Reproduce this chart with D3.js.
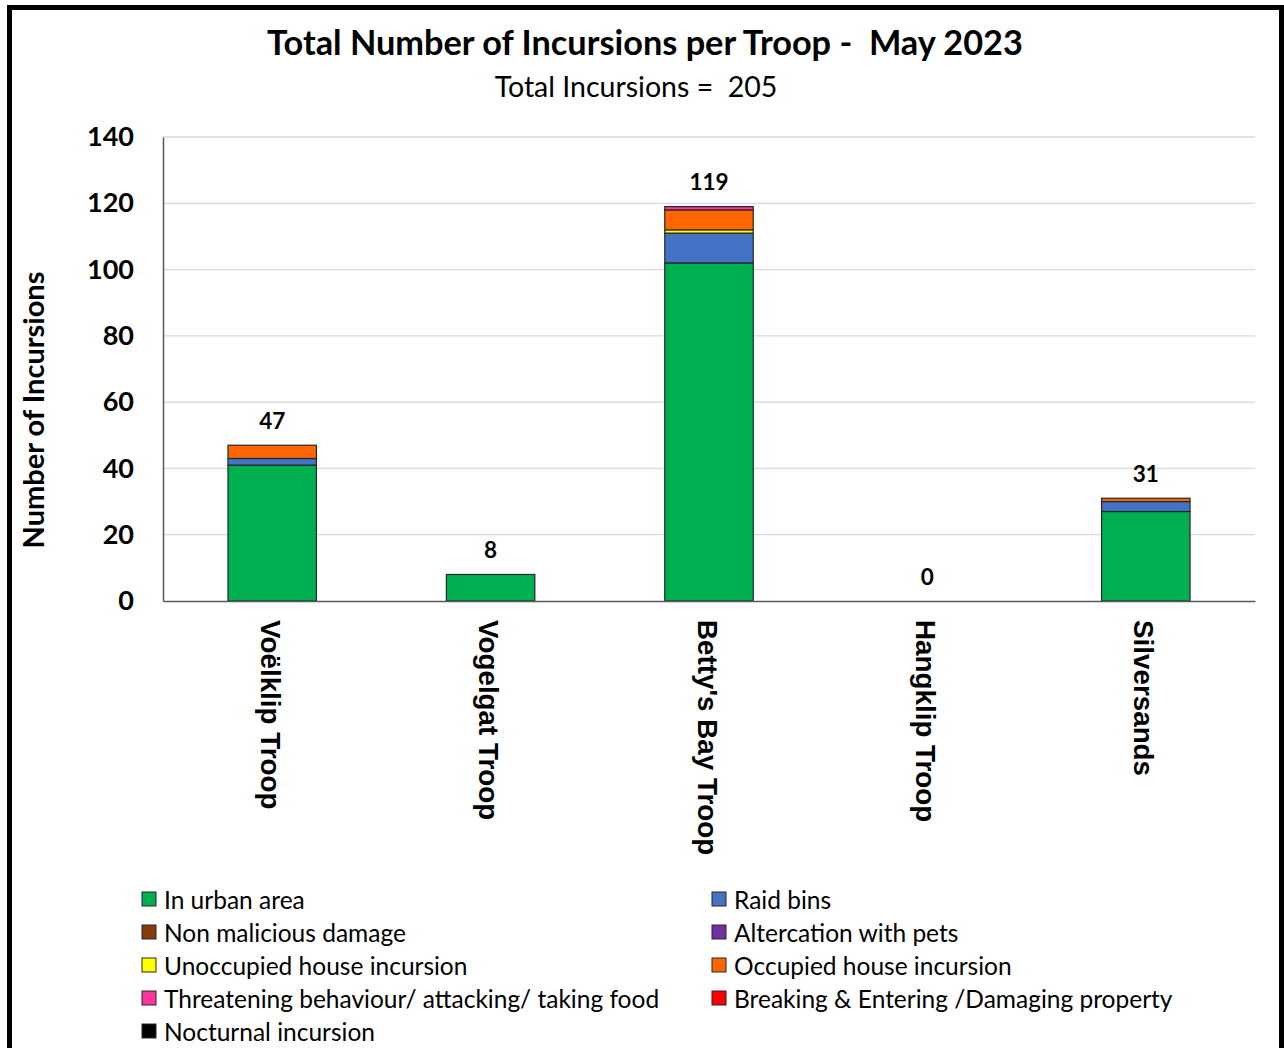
<!DOCTYPE html>
<html><head><meta charset="utf-8">
<script src="https://cdn.jsdelivr.net/npm/d3@7"></script>
<style>html,body{margin:0;padding:0;background:#fff;} text{white-space:pre;}</style>
</head><body>
<svg id="chart" width="1284" height="1048"></svg>
<script>
const categories = ["Voëlklip Troop", "Vogelgat Troop", "Betty's Bay Troop", "Hangklip Troop", "Silversands"];
const seriesNames = ["In urban area", "Raid bins", "Non malicious damage", "Altercation with pets",
  "Unoccupied house incursion", "Occupied house incursion",
  "Threatening behaviour/ attacking/ taking food", "Breaking & Entering /Damaging property", "Nocturnal incursion"];
const seriesColors = ["#00B050", "#4472C4", "#843C0C", "#7030A0", "#FFFF00", "#FF6600", "#FF3399", "#FF0000", "#000000"];
const inUrbanArea   = [41, 8, 102, 0, 27];
const raidBins      = [2, 0, 9, 0, 3];
const nonMalicious  = [0, 0, 0, 0, 0];
const altercation   = [0, 0, 0, 0, 0];
const unoccupied    = [0, 0, 1, 0, 0];
const occupied      = [4, 0, 6, 0, 1];
const threatening   = [0, 0, 1, 0, 0];
const breaking      = [0, 0, 0, 0, 0];
const nocturnal     = [0, 0, 0, 0, 0];
const yTicks = [0, 20, 40, 60, 80, 100, 120, 140];
const titleText = "Total Number of Incursions per Troop -  May 2023";
const subtitleText = "Total Incursions =  205";
const yAxisTitle = "Number of Incursions";

const seriesValues = [inUrbanArea, raidBins, nonMalicious, altercation, unoccupied, occupied, threatening, breaking, nocturnal];
const table = categories.map((c, i) => {
  const row = {cat: c};
  seriesNames.forEach((s, j) => row[s] = seriesValues[j][i]);
  return row;
});
const totals = categories.map((c, i) => seriesValues.reduce((a, s) => a + s[i], 0));

const svg = d3.select("#chart");
const font = "Lato, 'Open Sans', sans-serif";

svg.append("rect").attr("x", 9.5).attr("y", 7.5).attr("width", 1272).attr("height", 1060)
  .attr("fill", "none").attr("stroke", "#000").attr("stroke-width", 5);

const plotLeft = 163, plotRight = 1255, plotTop = 137, plotBottom = 601;
const x = d3.scaleBand().domain(categories).range([plotLeft, plotRight]).paddingInner(0.595).paddingOuter(0.2975);
const y = d3.scaleLinear().domain([0, 140]).range([plotBottom, plotTop]);

svg.append("g").selectAll("line").data(yTicks.filter(t => t > 0)).join("line")
  .attr("x1", plotLeft).attr("x2", plotRight).attr("y1", d => y(d)).attr("y2", d => y(d))
  .attr("stroke", "#d9d9d9").attr("stroke-width", 1.3);

const yAxis = svg.append("g").attr("transform", `translate(${plotLeft},0)`)
  .call(d3.axisLeft(y).tickValues(yTicks).tickSize(0).tickPadding(29));
yAxis.select(".domain").attr("stroke", "#595959").attr("stroke-width", 1.5);
yAxis.selectAll("text").attr("font-family", font).attr("font-weight", "bold")
  .attr("font-size", 27).attr("fill", "#000");

const stack = d3.stack().keys(seriesNames)(table);
const color = d3.scaleOrdinal().domain(seriesNames).range(seriesColors);
svg.append("g").selectAll("g").data(stack).join("g").attr("fill", d => color(d.key))
  .selectAll("rect").data(d => d.filter(p => p[1] - p[0] > 0)).join("rect")
  .attr("x", d => x(d.data.cat)).attr("width", x.bandwidth())
  .attr("y", d => y(d[1])).attr("height", d => y(d[0]) - y(d[1]))
  .attr("stroke", "#262626").attr("stroke-width", 1.2);

const xAxis = svg.append("g").attr("transform", `translate(0,${plotBottom})`)
  .call(d3.axisBottom(x).tickSize(0).tickFormat(""));
xAxis.select(".domain").attr("stroke", "#595959").attr("stroke-width", 1.5);

svg.append("g").selectAll("text").data(categories).join("text")
  .attr("transform", d => `translate(${x(d) + x.bandwidth() / 2 - 2},620) rotate(90)`)
  .attr("text-anchor", "start").attr("dominant-baseline", "central")
  .attr("font-family", "'Liberation Sans', Arial, sans-serif").attr("font-weight", "bold")
  .attr("font-size", 27.8).attr("fill", "#000").text(d => d);

svg.append("g").selectAll("text").data(categories).join("text")
  .attr("x", d => x(d) + x.bandwidth() / 2).attr("y", (d, i) => y(totals[i]) - 16.5)
  .attr("text-anchor", "middle").attr("font-family", font).attr("font-weight", "bold")
  .attr("font-size", 22.5).attr("fill", "#000").text((d, i) => totals[i]);

svg.append("text").attr("x", 645).attr("y", 55).attr("text-anchor", "middle")
  .attr("font-family", font).attr("font-weight", "bold").attr("font-size", 34.3).attr("fill", "#000").text(titleText);
svg.append("text").attr("x", 636).attr("y", 97).attr("text-anchor", "middle")
  .attr("font-family", font).attr("font-size", 28.5).attr("fill", "#000").text(subtitleText);
svg.append("text").attr("transform", "translate(44,410) rotate(-90)").attr("text-anchor", "middle")
  .attr("font-family", font).attr("font-weight", "bold").attr("font-size", 29).attr("fill", "#000").text(yAxisTitle);

const legend = svg.append("g").selectAll("g").data(seriesNames).join("g")
  .attr("transform", (d, i) => `translate(${i % 2 === 0 ? 142 : 712},${899 + Math.floor(i / 2) * 33})`);
legend.append("rect").attr("x", 0).attr("y", -7).attr("width", 14).attr("height", 14)
  .attr("fill", d => color(d)).attr("stroke", "#262626").attr("stroke-width", 1);
legend.append("text").attr("x", 22).attr("y", 0).attr("dominant-baseline", "central")
  .attr("font-family", font).attr("font-size", 24.5).attr("fill", "#000").text(d => d);
</script>
</body></html>
